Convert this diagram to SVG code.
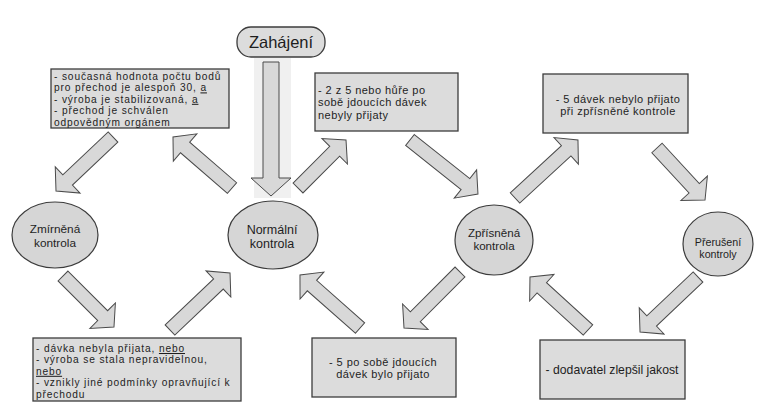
<svg xmlns="http://www.w3.org/2000/svg" width="766" height="418" viewBox="0 0 766 418">
<style>
text{font-family:"Liberation Sans",Arial,sans-serif;fill:#1e1e1e}
.box{fill:#dcdcdc;stroke:#3c3c3c;stroke-width:1.3}
.ell{fill:#d6d6d6;stroke:#3c3c3c;stroke-width:1.2}
.arr{fill:#d8d8d8;stroke:#4a4a4a;stroke-width:1}
.s{font-size:10.2px;letter-spacing:0.85px}
.m{font-size:11px;letter-spacing:0.45px}
.n{text-anchor:middle}
.u{text-decoration:underline}
</style>
<rect width="766" height="418" fill="#ffffff"/>
<rect x="254" y="58" width="37" height="140" fill="#f0f0f0"/>

<g id="start">
<rect x="237" y="27" width="88" height="30" rx="14" class="box" fill="#dedede"/>
<text x="281" y="48" font-size="16.5" text-anchor="middle">Zahájení</text>
</g>

<g id="zmirnena">
<ellipse cx="55" cy="235" rx="43" ry="33" class="ell"/>
<text class="n" x="55" y="233" font-size="11.8px">Zmírněná</text>
<text class="n" x="55" y="246.5" font-size="11.8px">kontrola</text>
</g>

<g id="normalni">
<ellipse cx="273" cy="235" rx="45" ry="34" class="ell"/>
<text class="n" x="272" y="234" font-size="12.5px">Normální</text>
<text class="n" x="272" y="248" font-size="12.5px">kontrola</text>
</g>

<g id="zprisnena">
<ellipse cx="494" cy="240" rx="39" ry="35" class="ell"/>
<text class="n" x="494" y="236.5" font-size="11.6px">Zpřísněná</text>
<text class="n" x="494" y="249.5" font-size="11.6px">kontrola</text>
</g>

<g id="preruseni">
<ellipse cx="718" cy="244" rx="35" ry="32" class="ell"/>
<text class="n" x="718" y="245.5" font-size="10.7px">Přerušení</text>
<text class="n" x="718" y="257.5" font-size="10.7px">kontroly</text>
</g>

<g id="box-zmirneni">
<rect x="51" y="69" width="178" height="59" class="box"/>
<text class="s" x="54" y="80">- současná hodnota počtu bodů</text>
<text class="s" x="54" y="91.4">pro přechod je alespoň 30, <tspan class="u">a</tspan></text>
<text class="s" x="54" y="102.8">- výroba je stabilizovaná, <tspan class="u">a</tspan></text>
<text class="s" x="54" y="114.2">- přechod je schválen</text>
<text class="s" x="54" y="125.6">odpovědným orgánem</text>
</g>

<g id="box-zprisneni">
<rect x="315" y="73" width="143" height="58" class="box"/>
<text class="m" x="318" y="94">- 2 z 5 nebo hůře po</text>
<text class="m" x="318" y="106.4">sobě jdoucích dávek</text>
<text class="m" x="318" y="118.8">nebyly přijaty</text>
</g>

<g id="box-preruseni">
<rect x="543" y="74" width="145" height="59" class="box"/>
<text class="m n" x="618" y="103">- 5 dávek nebylo přijato</text>
<text class="m n" x="618" y="115.4">při zpřísněné kontrole</text>
</g>

<g id="box-normal-z-zmirnene">
<rect x="33" y="338" width="208" height="63" class="box"/>
<text class="s" x="36" y="352">- dávka nebyla přijata, <tspan class="u">nebo</tspan></text>
<text class="s" x="36" y="363.4">- výroba se stala nepravidelnou,</text>
<text class="s" x="36" y="374.8"><tspan class="u">nebo</tspan></text>
<text class="s" x="36" y="386.2">- vznikly jiné podmínky opravňující k</text>
<text class="s" x="36" y="397.6">přechodu</text>
</g>

<g id="box-normal-z-zprisnene">
<rect x="312" y="338" width="144" height="59" class="box"/>
<text class="m n" x="383" y="365.5">- 5 po sobě jdoucích</text>
<text class="m n" x="383" y="377.9">dávek bylo přijato</text>
</g>

<g id="box-zprisnena-z-preruseni">
<rect x="540" y="340" width="145" height="59" class="box"/>
<text x="612" y="374" font-size="12.2px" text-anchor="middle">- dodavatel zlepšil jakost</text>
</g>

<g id="connectors">
<polygon class="arr" points="263,62 279,62 279,178 291,178 271,196 251,178 263,178"/>
<polygon class="arr" transform="translate(113 137) rotate(136.55)" points="0,-7 62.5,-7 62.5,-18 78.5,0 62.5,18 62.5,7 0,7"/>
<polygon class="arr" transform="translate(232 188) rotate(-139.16)" points="0,-7 62,-7 62,-18 78,0 62,18 62,7 0,7"/>
<polygon class="arr" transform="translate(63 276) rotate(45)" points="0,-7 56.1,-7 56.1,-18 72.1,0 56.1,18 56.1,7 0,7"/>
<polygon class="arr" transform="translate(170 330) rotate(-43.53)" points="0,-7 66.8,-7 66.8,-18 82.8,0 66.8,18 66.8,7 0,7"/>
<polygon class="arr" transform="translate(298 188) rotate(-45)" points="0,-7 51.9,-7 51.9,-18 67.9,0 51.9,18 51.9,7 0,7"/>
<polygon class="arr" transform="translate(410 140) rotate(38.46)" points="0,-7 70.8,-7 70.8,-18 86.8,0 70.8,18 70.8,7 0,7"/>
<polygon class="arr" transform="translate(515 198) rotate(-42.64)" points="0,-7 69.6,-7 69.6,-18 85.6,0 69.6,18 69.6,7 0,7"/>
<polygon class="arr" transform="translate(657 148) rotate(47.29)" points="0,-7 54.8,-7 54.8,-18 70.8,0 54.8,18 54.8,7 0,7"/>
<polygon class="arr" transform="translate(698 277) rotate(136.52)" points="0,-7 63.9,-7 63.9,-18 79.9,0 63.9,18 63.9,7 0,7"/>
<polygon class="arr" transform="translate(588 330) rotate(-137.58)" points="0,-7 62.6,-7 62.6,-18 78.6,0 62.6,18 62.6,7 0,7"/>
<polygon class="arr" transform="translate(460 272) rotate(135)" points="0,-7 63.2,-7 63.2,-18 79.2,0 63.2,18 63.2,7 0,7"/>
<polygon class="arr" transform="translate(360 328) rotate(-138.54)" points="0,-7 64.1,-7 64.1,-18 80.1,0 64.1,18 64.1,7 0,7"/>
</g>
</svg>
